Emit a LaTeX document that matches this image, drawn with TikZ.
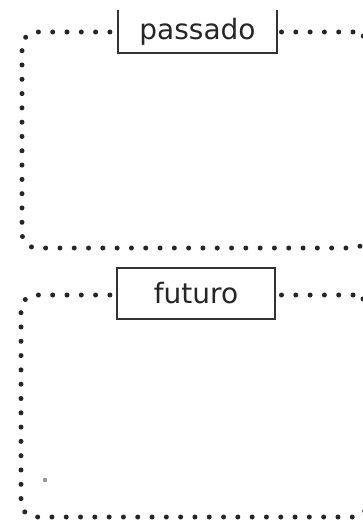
\documentclass[tikz,border=0pt]{standalone}
\usepackage{fontspec}
\setmainfont{DejaVu Sans}
\begin{document}
\begin{tikzpicture}[x=1pt,y=-1pt,
  frame/.style={draw=black!85, line width=5pt, line cap=round,
    dash pattern=on 0pt off 14.3pt, rounded corners=15pt, inner sep=0pt},
  labelbox/.style={fill=white, inner sep=0pt, font=\fontsize{28}{30}\selectfont, text=black!85},
  labelline/.style={draw=black!80, line width=1.6pt}]
\useasboundingbox (0,0) rectangle (362,521);
\fill[white] (0,0) rectangle (362,521);
% frames
\node[frame, minimum width=346pt, minimum height=216pt] (past) at (195,140) {};
\node[frame, minimum width=347pt, minimum height=222pt] (fut) at (194.5,406) {};
% labels
\node[labelbox, minimum width=159pt, minimum height=43pt] (pas) at (197.5,31.5) {passado};
\draw[labelline] (pas.north west) -- (pas.south west) -- (pas.south east) -- (pas.north east);
\node[labelbox, labelline, minimum width=158pt, minimum height=51pt] (futl) at (196,293.5) {futuro};
% small mark
\fill[black!40] (45,480) circle (2.3pt);
\end{tikzpicture}
\end{document}
